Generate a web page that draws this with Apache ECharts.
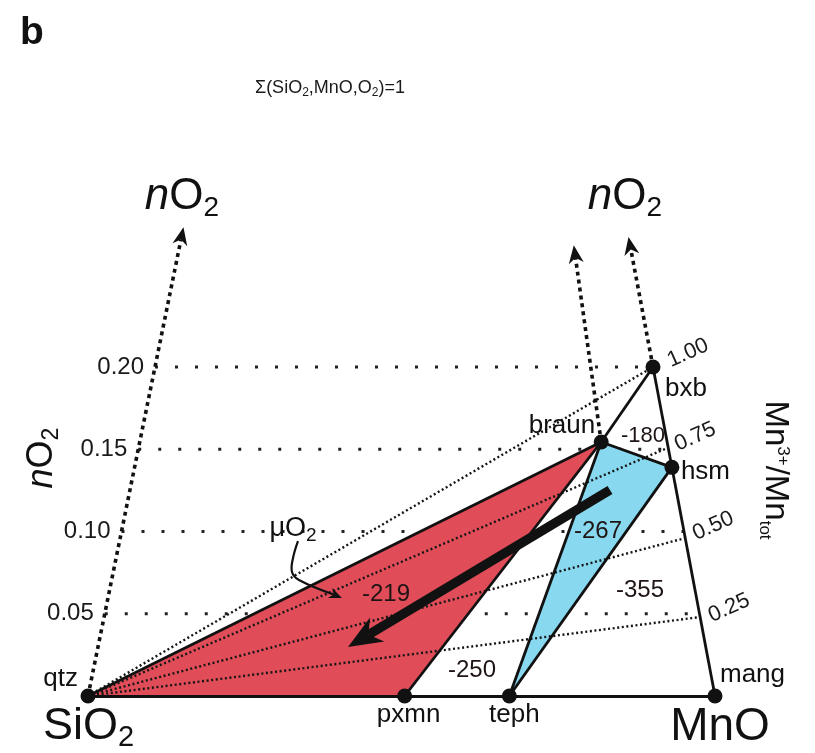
<!DOCTYPE html>
<html><head><meta charset="utf-8">
<script src="https://cdn.jsdelivr.net/npm/echarts@6/dist/echarts.min.js"></script>
<style>html,body{margin:0;padding:0;background:#fff}#c{width:815px;height:753px}</style>
</head><body><div id="c"></div>
<script>
// ---------- data ----------
const phaseNames = ['qtz', 'pxmn', 'teph', 'mang', 'braun', 'hsm', 'bxb'];
const phaseMnO   = [0, 0.505, 0.672, 1, 0.875, 1, 1];        // MnO/(MnO+SiO2)
const phaseNO2   = [0, 0, 0, 0, 0.1544, 0.139, 0.2];         // nO2
const nO2Ticks = [0.05, 0.10, 0.15, 0.20];
const nO2TickLabels = ['0.05', '0.10', '0.15', '0.20'];
const mn3Ratio = [0.25, 0.50, 0.75, 1.00];
const mn3TickLabels = ['0.25', '0.50', '0.75', '1.00'];
const mn3EdgeNO2 = [0.048, 0.096, 0.151, 0.2];
const redField = ['qtz', 'braun', 'pxmn'];
const blueField = ['braun', 'hsm', 'teph'];
const solidEdges = [['qtz','mang'],['qtz','braun'],['braun','pxmn'],['braun','teph'],['hsm','teph'],['braun','hsm'],['braun','bxb'],['bxb','mang']];
const nO2ArrowFrom = ['qtz', 'braun', 'bxb'];
const nO2ArrowTop = [0.285, 0.274, 0.279];
const fieldValues = ['-219', '-267', '-355', '-250', '-180'];

// ---------- projection (oblique view of the SiO2-MnO-O2 space) ----------
const K0 = 0.5343, K1 = 1.0287;
function proj(c, n) { return [c + n * (K0 - K1 * c), n]; }
function phase(name) { const i = phaseNames.indexOf(name); return proj(phaseMnO[i], phaseNO2[i]); }

const FF = "'Liberation Sans', Arial, Helvetica, sans-serif";
const INK = '#111';
function subPad(F, s, d) { return Math.round(2 * (0.33 * (F - s) + d)); }

const series = [];

// horizontal nO2 levels
nO2Ticks.forEach(n => series.push({
  type: 'line', data: [proj(0, n), proj(1, n)], symbol: 'none', silent: true, z: 1,
  lineStyle: { color: '#222', width: 3.2, type: [3, 17] }
}));

// coloured fields
const fields = [{ v: redField, color: '#e04d58' }, { v: blueField, color: '#88d8f0' }];
series.push({
  type: 'custom', coordinateSystem: 'cartesian2d', clip: false, z: 2, silent: true,
  data: fields.map(f => phase(f.v[0])),
  renderItem: (params, api) => {
    const f = fields[params.dataIndex];
    return { type: 'polygon', shape: { points: f.v.map(nm => api.coord(phase(nm))) }, style: { fill: f.color } };
  }
});

// dotted tie lines from qtz to Mn3+/Mntot ticks
series.push({
  type: 'lines', coordinateSystem: 'cartesian2d', z: 3, silent: true,
  data: mn3EdgeNO2.map(n => ({ coords: [phase('qtz'), proj(1, n)] })),
  lineStyle: { color: '#151515', width: 2.4, type: [2, 2.6], opacity: 1 }
});

// solid edges
series.push({
  type: 'lines', coordinateSystem: 'cartesian2d', z: 4, silent: true,
  data: solidEdges.map(e => ({ coords: [phase(e[0]), phase(e[1])] })),
  lineStyle: { color: INK, width: 2.8, opacity: 1 }
});

// arrows
const arrows = [];
nO2ArrowFrom.forEach((nm, i) => {
  const k = phaseNames.indexOf(nm);
  arrows.push({ path: [phase(nm), proj(phaseMnO[k], nO2ArrowTop[i])], width: 3.6, dash: [4, 4], head: [18, 15] });
});
arrows.push({ path: [[0.8325, 0.1252], [0.4147, 0.0298]], width: 9.5, head: [34, 28] });
arrows.push({ path: [[0.3349, 0.0942], [0.3270, 0.0839], [0.3254, 0.0754], [0.3365, 0.0705], [0.4051, 0.0596]], width: 2.2, head: [13, 11], smooth: 0.4 });
series.push({
  type: 'custom', coordinateSystem: 'cartesian2d', clip: false, z: 6, silent: true,
  data: arrows.map(a => a.path[0]),
  renderItem: (params, api) => {
    const a = arrows[params.dataIndex];
    const pts = a.path.map(p => api.coord(p));
    const tip = pts[pts.length - 1], prev = pts[pts.length - 2];
    let dx = tip[0] - prev[0], dy = tip[1] - prev[1];
    const L = Math.hypot(dx, dy); dx /= L; dy /= L;
    const nx = -dy, ny = dx, len = a.head[0], w = a.head[1] / 2;
    const back = [tip[0] - dx * len, tip[1] - dy * len];
    const notch = [tip[0] - dx * len * 0.7, tip[1] - dy * len * 0.7];
    const linePts = pts.slice(0, -1).concat([notch]);
    return { type: 'group', children: [
      { type: 'polyline', shape: { points: linePts, smooth: a.smooth || 0 },
        style: { stroke: INK, lineWidth: a.width, lineDash: a.dash || null, fill: null } },
      { type: 'polygon', shape: { points: [tip, [back[0] + nx * w, back[1] + ny * w], notch, [back[0] - nx * w, back[1] - ny * w]] },
        style: { fill: INK } }
    ] };
  }
});

const full = { opacity: 1 };

// phase points
const phaseLabelLayout = {
  qtz: { align: 'right', offset: [-10, -17] },
  pxmn: { align: 'center', offset: [4, 19] },
  teph: { align: 'center', offset: [5, 19] },
  mang: { align: 'left', offset: [5, -21] },
  braun: { align: 'right', offset: [-6, -16] },
  hsm: { align: 'left', offset: [9, 4] },
  bxb: { align: 'left', offset: [12, 22] }
};
series.push({
  type: 'scatter', z: 8, silent: true, symbolSize: 15, itemStyle: { color: INK, opacity: 1 },
  data: phaseNames.map(nm => ({
    name: nm, value: phase(nm),
    label: Object.assign({ show: true, position: 'inside', formatter: nm, fontSize: 26, fontFamily: FF, color: INK, verticalAlign: 'middle' }, phaseLabelLayout[nm])
  }))
});

// nO2 tick labels on the SiO2 axis
series.push({
  type: 'scatter', z: 8, silent: true, symbolSize: 0, itemStyle: full,
  data: nO2Ticks.map((n, i) => ({ value: proj(0, n), label: { show: true, position: 'inside', formatter: nO2TickLabels[i], align: 'right', offset: [-11, 0], fontSize: 24, fontFamily: FF, color: '#1a1a1a' } }))
});

// Mn3+/Mntot tick labels (offsets are in the rotated label frame)
const mn3Offsets = [[30.2, 3.6], [30.5, 0.4], [29.2, 1], [37.7, 1.4]];
series.push({
  type: 'scatter', z: 8, silent: true, symbolSize: 0, itemStyle: full,
  data: mn3Ratio.map((r, i) => ({ value: proj(1, mn3EdgeNO2[i]), label: { show: true, position: 'inside', formatter: mn3TickLabels[i], rotate: 24, align: 'center', offset: mn3Offsets[i], fontSize: 22, fontFamily: FF, color: '#1a1a1a' } }))
});

// field values (muO2)
const fieldValuePos = [[0.4753, 0.0620], [0.8134, 0.1003], [0.8804, 0.0644], [0.6124, 0.0158], [0.8852, 0.1581]];
const fieldValueSize = [24, 24, 24, 24, 22];
series.push({
  type: 'scatter', z: 9, silent: true, symbolSize: 0, itemStyle: full,
  data: fieldValues.map((t, i) => ({ value: fieldValuePos[i], label: { show: true, position: 'inside', formatter: t, fontSize: fieldValueSize[i], fontFamily: FF, color: '#1e1414' } }))
});

// component labels + muO2 label
series.push({
  type: 'scatter', z: 9, silent: true, symbolSize: 0, itemStyle: full,
  data: [
    { value: phase('qtz'), label: { show: true, position: 'inside', align: 'left', offset: [-45, 31], formatter: 'SiO{s|2}',
      fontSize: 45, fontFamily: FF, color: INK,
      rich: { s: { fontSize: 29, lineHeight: 29, fontFamily: FF, color: INK, padding: [subPad(45, 29, 5), 0, 0, 0] } } } },
    { value: phase('mang'), label: { show: true, position: 'inside', align: 'center', offset: [5, 31], formatter: 'MnO',
      fontSize: 46, fontFamily: FF, color: INK } },
    { value: [0.3270, 0.1015], label: { show: true, position: 'inside', align: 'center', formatter: 'μO{s|2}',
      fontSize: 27, fontFamily: FF, color: INK,
      rich: { s: { fontSize: 19, lineHeight: 19, fontFamily: FF, color: INK, padding: [subPad(27, 19, 4), 0, 0, 0] } } } }
  ]
});

const chart = echarts.init(document.getElementById('c'), null, { renderer: 'canvas' });
chart.setOption({
  animation: false,
  backgroundColor: '#fff',
  grid: { left: 0, right: 0, top: 0, bottom: 0 },
  xAxis: { type: 'value', min: -0.14035, max: 1.15949, show: false },
  yAxis: { type: 'value', min: -0.034650, max: 0.423100, show: false },
  series: series,
  graphic: [
    { type: 'text', x: 20, y: 33, style: { text: 'b', fontSize: 39, fontWeight: 'bold', fontFamily: FF, fill: INK, align: 'left', verticalAlign: 'middle' } },
    { type: 'text', x: 330, y: 88, style: { text: 'Σ(SiO{s|2},MnO,O{s|2})=1', fontSize: 18, fontFamily: FF, fill: '#1a1a1a', align: 'center', verticalAlign: 'middle',
      rich: { s: { fontSize: 12, lineHeight: 12, fontFamily: FF, fill: '#1a1a1a', padding: [subPad(18, 12, 3), 0, 0, 0] } } } },
    { type: 'text', x: 182, y: 197, style: { text: '{i|n}O{s|2}', fontSize: 44, fontFamily: FF, fill: INK, align: 'center', verticalAlign: 'middle',
      rich: { i: { fontStyle: 'italic', fontSize: 44, fontFamily: FF, fill: INK }, s: { fontSize: 28, lineHeight: 28, fontFamily: FF, fill: INK, padding: [subPad(44, 28, 6), 0, 0, 0] } } } },
    { type: 'text', x: 625, y: 197, style: { text: '{i|n}O{s|2}', fontSize: 44, fontFamily: FF, fill: INK, align: 'center', verticalAlign: 'middle',
      rich: { i: { fontStyle: 'italic', fontSize: 44, fontFamily: FF, fill: INK }, s: { fontSize: 28, lineHeight: 28, fontFamily: FF, fill: INK, padding: [subPad(44, 28, 6), 0, 0, 0] } } } },
    { type: 'text', x: 42, y: 458, rotation: Math.PI / 2, style: { text: '{i|n}O{s|2}', fontSize: 36, fontFamily: FF, fill: INK, align: 'center', verticalAlign: 'middle',
      rich: { i: { fontStyle: 'italic', fontSize: 36, fontFamily: FF, fill: INK }, s: { fontSize: 23, lineHeight: 23, fontFamily: FF, fill: INK, padding: [subPad(36, 23, 5), 0, 0, 0] } } } },
    { type: 'text', x: 775, y: 470, rotation: -Math.PI / 2, style: { text: 'Mn{p|3+}/Mn{s|tot}', fontSize: 33, fontFamily: FF, fill: INK, align: 'center', verticalAlign: 'middle',
      rich: { p: { fontSize: 17, lineHeight: 17, fontFamily: FF, fill: INK, padding: [0, 0, 15, 0] }, s: { fontSize: 17, lineHeight: 17, fontFamily: FF, fill: INK, padding: [20, 0, 0, 0] } } } }
  ]
});
</script>
</body></html>
